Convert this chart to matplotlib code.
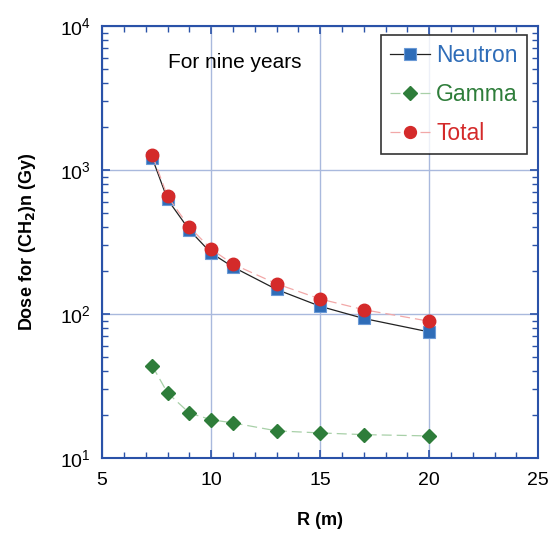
import numpy as np
import matplotlib.pyplot as plt
from matplotlib.ticker import MultipleLocator, LogLocator, NullFormatter

plt.rcParams['font.family'] = ['Liberation Sans', 'DejaVu Sans']

r_m = [7.3, 8, 9, 10, 11, 13, 15, 17, 20]
neutron = [1210, 625, 383, 265, 212, 148, 113, 93, 75]
gamma = [43.5, 28.3, 20.5, 18.4, 17.5, 15.4, 14.9, 14.5, 14.2]
total = [1270, 655, 402, 282, 222, 162, 127, 107, 89]

spine_c = '#2a52a8'
grid_c = '#a9b9dd'

fig = plt.figure(figsize=(5.52, 5.33), dpi=100)
ax = fig.add_axes([0.185, 0.141, 0.79, 0.81])

ax.plot(r_m, neutron, '-', color='#222222', lw=0.9, marker='s', ms=8.5,
        mfc='#2f6db8', mec='#6b9ad6', mew=0.8, label='Neutron', zorder=3)
ax.plot(r_m, gamma, '--', color='#a8d0a8', lw=0.9, dashes=(8, 4), marker='D', ms=7,
        mfc='#2e7d3a', mec='#2e7d3a', label='Gamma', zorder=3)
ax.plot(r_m, total, '--', color='#f2a8a8', lw=0.9, dashes=(8, 4), marker='o', ms=9,
        mfc='#d42a2a', mec='#d42a2a', label='Total', zorder=4)

ax.set_yscale('log')
ax.set_xlim(5, 25)
ax.set_ylim(10, 1e4)
ax.xaxis.set_major_locator(MultipleLocator(5))
ax.xaxis.set_minor_locator(MultipleLocator(1))
ax.yaxis.set_major_locator(LogLocator(base=10))
ax.yaxis.set_minor_locator(LogLocator(base=10, subs=np.arange(2, 10)))
ax.yaxis.set_minor_formatter(NullFormatter())

ax.grid(True, which='major', color=grid_c, lw=1.0)
ax.set_axisbelow(True)
for s in ax.spines.values():
    s.set_color(spine_c)
    s.set_linewidth(1.5)
ax.tick_params(which='both', direction='in', top=True, right=True, color=spine_c,
               labelsize=14)
ax.tick_params(axis='x', pad=10)
ax.tick_params(axis='y', pad=8)
ax.tick_params(which='major', length=6, width=1.2)
ax.tick_params(which='minor', length=4, width=1.0)

ax.set_xlabel('R (m)', fontsize=13, fontweight='bold', labelpad=17)
ax.set_ylabel('Dose for (CH$_\\mathbf{2}$)n (Gy)', fontsize=13, fontweight='bold', labelpad=16)

ax.text(0.152, 0.937, 'For nine years', transform=ax.transAxes, fontsize=15,
        va='top', ha='left')

leg = ax.legend(loc='upper right', fontsize=16.5, frameon=True, fancybox=False,
                edgecolor='black', handlelength=1.75, handletextpad=0.25,
                borderpad=0.4, labelspacing=0.7, markerscale=0.95,
                bbox_to_anchor=(0.974, 0.98), borderaxespad=0)
leg.get_frame().set_linewidth(1.2)
for txt, c in zip(leg.get_texts(), ['#2f6db8', '#2e7d3a', '#d42a2a']):
    txt.set_color(c)

fig.savefig('out.png', dpi=100)
